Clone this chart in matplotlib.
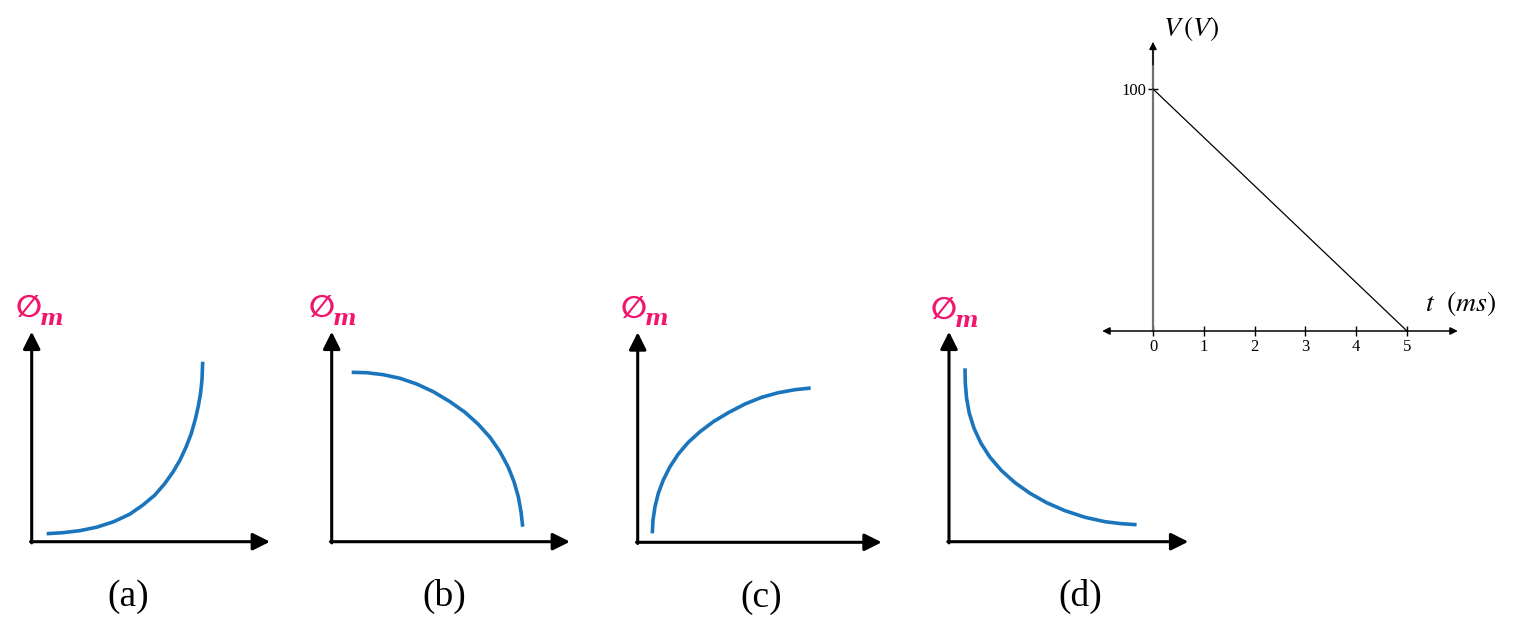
import matplotlib
matplotlib.use("Agg")
import matplotlib.pyplot as plt

# ---------------- data ----------------
panel_labels = ["(a)", "(b)", "(c)", "(d)"]
flux_label = "\u2205"
flux_sub = "m"

a_x = [15, 31, 48, 65, 82, 98, 111, 123, 133, 141.5, 148.5, 154.5, 159.5, 163.5, 166.5, 168.8, 170.3, 171]
a_y = [8, 9, 11, 14.5, 20, 27.5, 36.5, 46.5, 58, 70, 82, 95, 108, 122, 135, 148, 162, 180]

b_x = [20, 35, 51.6, 68.3, 85, 101.6, 118.3, 133.3, 146.6, 158.3, 168.3, 176.6, 182.3, 186.6, 189.3, 191]
b_y = [169.4, 169, 167, 163.4, 157.7, 150, 140, 129.4, 117.4, 104.4, 90, 74.4, 60, 45, 30, 15]

c_x = [14.6, 15.3, 17.3, 20.6, 25.6, 32.3, 40.6, 50.6, 62.3, 75.6, 90.6, 107.3, 124, 140.6, 157.3, 173]
c_y = [9, 22.3, 35.6, 49, 62.3, 75.6, 88.3, 100, 110.6, 120.6, 129.6, 138.3, 145, 149.6, 152.6, 154.3]

d_x = [16, 16.3, 17.6, 20.3, 25, 32, 41, 52.6, 66, 81, 97.6, 116, 136, 156, 172.6, 187.6]
d_y = [173.4, 158.4, 143.4, 128.4, 113.4, 98.4, 84.4, 71, 59, 48.4, 39, 31, 24.4, 20, 18, 17]

t_ms = [0, 5]
v_volts = [100, 0]
t_ticks = [0, 1, 2, 3, 4, 5]
v_ticks = [100]

# ---------------- layout ----------------
W, H = 1532, 633
fig = plt.figure(figsize=(W / 100, H / 100), dpi=100)
plt.rcParams["mathtext.fontset"] = "stix"

PINK = "#F0166E"
BLUE = "#1B75BC"


def px_axes(left, top, right, bottom):
    return fig.add_axes([left / W, 1 - bottom / H, (right - left) / W, (bottom - top) / H])


origins = [(31.7, 541.7), (331.7, 541.7), (637.7, 542.3), (949.0, 541.7)]
x_tips = [238.3, 238.3, 244.0, 239.3]
sym_dx = [-16, -23, -17, -18]
sym_dy = [232, 232, 232, 230]
lab_dx = [96, 113, 123, 131]
curves = [(a_x, a_y), (b_x, b_y), (c_x, c_y), (d_x, d_y)]

for i, (ox, oy) in enumerate(origins):
    ax = px_axes(ox - 40, oy - 250, ox + 260, oy + 70)
    ax.set_xlim(-40, 260)
    ax.set_ylim(-70, 250)
    ax.axis("off")
    ap = dict(arrowstyle="-|>", lw=2.2, color="black", mutation_scale=26,
              shrinkA=0, shrinkB=0)
    ax.annotate("", xy=(0, 210), xytext=(0, -1.2), arrowprops=ap)
    ax.annotate("", xy=(x_tips[i], 0), xytext=(-1.2, 0), arrowprops=ap)
    cx, cy = curves[i]
    ax.plot(cx, cy, color=BLUE, lw=2.6, solid_capstyle="butt", solid_joinstyle="round")
    sym = ax.text(sym_dx[i], sym_dy[i], flux_label, color=PINK, fontsize=22,
                  family=["Liberation Serif", "DejaVu Sans"], fontweight="bold",
                  ha="left", va="center")
    ax.annotate(flux_sub, xy=(1.0, 0.0), xycoords=sym, xytext=(-1.5, 4),
                textcoords="offset points", color=PINK, fontsize=16,
                family="DejaVu Serif", fontweight="bold", style="italic",
                ha="left", va="center")
    ax.text(lab_dx[i], -55, panel_labels[i], fontsize=27, family="Liberation Serif",
            ha="center", va="center")

# ---------------- V-t graph ----------------
x0, y0 = 1153.0, 331.0
sx, sy = 50.8, 2.42
xl, xr = -1.2, 6.3
yb, yt = -15, 130
ax = px_axes(x0 + xl * sx, y0 - yt * sy, x0 + xr * sx, y0 - yb * sy)
ax.set_xlim(xl, xr)
ax.set_ylim(yb, yt)
ax.spines["bottom"].set_position(("data", 0))
ax.spines["left"].set_position(("data", 0))
for s in ["top", "right", "left", "bottom"]:
    ax.spines[s].set_visible(False)

# axes lines
ax.plot([0, 0], [0, 116], color="#707070", lw=1.6)
ax.annotate("", xy=(0, 119.5), xytext=(0, 110),
            arrowprops=dict(arrowstyle="-|>", lw=1.0, color="black",
                            mutation_scale=11, shrinkA=0, shrinkB=0))
ax.annotate("", xy=(6.0, 0), xytext=(-1.0, 0),
            arrowprops=dict(arrowstyle="<|-|>", lw=1.1, color="black",
                            mutation_scale=11, shrinkA=0, shrinkB=0))

ax.set_xticks(t_ticks)
ax.set_xticklabels([str(t) for t in t_ticks], family="Liberation Serif", fontsize=12)
ax.set_yticks(v_ticks)
ax.set_yticklabels([str(v) for v in v_ticks], family="Liberation Serif", fontsize=12)
ax.tick_params(axis="x", direction="inout", length=7, width=1.0, pad=2)
ax.tick_params(axis="y", direction="inout", length=7, width=1.0, pad=1)

ax.plot(t_ms, v_volts, color="black", lw=0.9)

ax.text(0.2, 125, r"$V\,(V)$", fontsize=20, ha="left", va="center")
ax.text(5.35, 11.5, r"$t\ \ (ms)$", fontsize=20, ha="left", va="center")

fig.savefig("out.png", dpi=100)
